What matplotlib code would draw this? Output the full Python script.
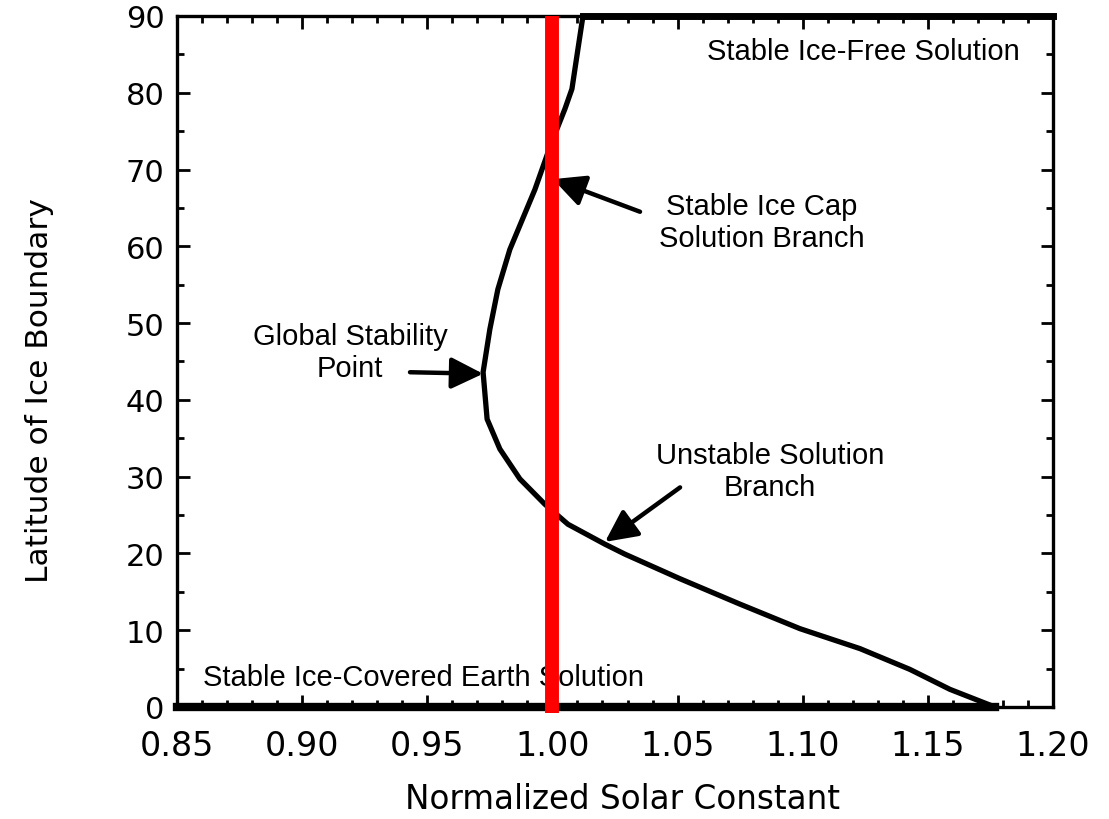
import numpy as np
import matplotlib
matplotlib.use("Agg")
import matplotlib.pyplot as plt
from matplotlib.ticker import MultipleLocator, FormatStrFormatter

# ice-cap branch of the energy balance solution (solar constant vs ice-edge latitude)
solar_constant = [1.0122, 1.0102, 1.0078, 1.0050, 0.9994, 0.9930, 0.9830, 0.9782, 0.9750,
                  0.9723, 0.9739, 0.9790, 0.9870, 0.9970, 1.0062, 1.0210, 1.0290, 1.0510,
                  1.0749, 1.0989, 1.1229, 1.1428, 1.1588, 1.1768]
ice_latitude = [90.0, 85.7, 80.5, 77.9, 73.3, 67.4, 59.6, 54.4, 49.2,
                43.6, 37.5, 33.6, 29.7, 26.4, 23.8, 21.2, 19.9, 16.7,
                13.4, 10.2, 7.6, 4.9, 2.3, 0.0]

# ice-free (90 deg) and ice-covered (0 deg) stable branches
ice_free_s = [1.0122, 1.20]
ice_free_lat = [90, 90]
ice_covered_s = [0.85, 1.1768]
ice_covered_lat = [0, 0]

present_day_s = 1.00

x_ticks = [0.85, 0.90, 0.95, 1.00, 1.05, 1.10, 1.15, 1.20]
y_ticks = [0, 10, 20, 30, 40, 50, 60, 70, 80, 90]

TEXT_FONT = "Liberation Sans"
AXIS_FONT = "DejaVu Sans"

fig = plt.figure(figsize=(11.09, 8.2), dpi=100)
ax = fig.add_axes([0.1596, 0.1366, 0.7899, 0.8427])

ax.plot(solar_constant, ice_latitude, color="black", lw=3.8, solid_capstyle="round", zorder=3)
ax.plot(ice_free_s, ice_free_lat, color="black", lw=5, clip_on=False, zorder=3)
ax.plot(ice_covered_s, ice_covered_lat, color="black", lw=6, clip_on=False, zorder=3)
ax.axvline(present_day_s, ymin=-0.008, ymax=1.0, color="#ff0000", lw=10,
           solid_capstyle="butt", clip_on=False, zorder=4)

ax.set_xlim(0.85, 1.20)
ax.set_ylim(0, 90)
ax.set_xticks(x_ticks)
ax.set_yticks(y_ticks)
ax.xaxis.set_major_formatter(FormatStrFormatter("%.2f"))
ax.xaxis.set_minor_locator(MultipleLocator(0.01))
ax.yaxis.set_minor_locator(MultipleLocator(5))

ax.tick_params(which="both", direction="in", top=True, right=True, width=2)
ax.tick_params(which="major", length=9)
ax.tick_params(which="minor", length=5)
ax.tick_params(axis="x", which="major", labelsize=24, pad=16)
ax.tick_params(axis="y", which="major", labelsize=22, pad=9)
for lbl in ax.get_xticklabels() + ax.get_yticklabels():
    lbl.set_fontfamily(AXIS_FONT)

for sp in ax.spines.values():
    sp.set_linewidth(2.4)

ax.set_xlabel("Normalized Solar Constant", fontsize=23.5, family=AXIS_FONT)
ax.set_ylabel("Latitude of Ice Boundary", fontsize=22.5, family=AXIS_FONT)
ax.xaxis.set_label_coords(0.508, -0.1085)
ax.yaxis.set_label_coords(-0.1404, 0.46)

arrow = dict(arrowstyle="-|>,head_length=0.65,head_width=0.32", color="black",
             lw=3.2, mutation_scale=30, shrinkA=0, shrinkB=0)
label_style = dict(fontsize=21, family=TEXT_FONT, ha="center", va="center", linespacing=1.2)

ax.text(1.1868, 85.4, "Stable Ice-Free Solution", fontsize=21, family=TEXT_FONT,
        ha="right", va="center")
ax.text(0.8604, 3.9, "Stable Ice-Covered Earth Solution", fontsize=21, family=TEXT_FONT,
        ha="left", va="center")

ax.text(1.0837, 63.2, "Stable Ice Cap\nSolution Branch", **label_style)
ax.annotate("", xy=(1.0002, 68.75), xytext=(1.035, 64.5), arrowprops=arrow)

ax.text(0.9191, 46.2, "Global Stability\nPoint", **label_style)
ax.annotate("", xy=(0.9723, 43.4), xytext=(0.9431, 43.6), arrowprops=arrow)

ax.text(1.0869, 30.7, "Unstable Solution\nBranch", **label_style)
ax.annotate("", xy=(1.021, 21.5), xytext=(1.051, 28.6), arrowprops=arrow)

fig.savefig("out.png", dpi=100)
